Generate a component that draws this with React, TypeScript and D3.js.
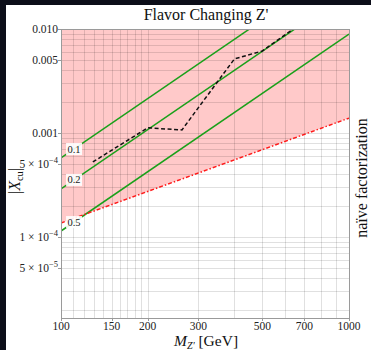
import React from 'react'
import * as d3 from 'd3'

// axis ticks
const massTicks = [100, 150, 200, 300, 500, 700, 1000]
const couplingTicks = [0.01, 0.005, 0.001, 5e-4, 1e-4, 5e-5]
const couplingMantissa = ['0.010', '0.005', '0.001', '5 × 10', '1 × 10', '5 × 10']
const couplingExponent = ['', '', '', '−4', '−4', '−5']

// green contours, value of |X_cu| at M = 100 and M = 1000 GeV
const contourLabels = ['0.1', '0.2', '0.5']
const contourAt100 = [5.75e-4, 2.9e-4, 1.14e-4]
const contourAt1000 = [0.0452, 0.0227, 8.95e-3]

// naive factorization line (red)
const naiveMass = [100, 1000]
const naiveX = [1.36e-4, 1.39e-3]

// experimental bound (black dashed)
const boundMass = [129, 200, 263, 400, 500, 640]
const boundX = [5.26e-4, 1.12e-3, 1.07e-3, 5.15e-3, 6.15e-3, 0.0100]

const W = 371
const H = 350
const margin = { top: 29, right: 22, bottom: 32, left: 61 }
const serif = '"Liberation Serif", "DejaVu Serif", serif'

export default function App() {
  const x = d3.scaleLog().domain([100, 1000]).range([margin.left, W - margin.right])
  const y = d3.scaleLog().domain([1.66e-5, 0.01]).range([H - margin.bottom, margin.top])
  const [x0, x1] = x.range()
  const [y0, y1] = y.range()

  const vGrid = d3.range(110, 200, 10).concat(d3.range(200, 1000, 100))
  const hGrid: number[] = []
  for (const k of [-5, -4, -3]) {
    for (let m = 1; m <= 9; m++) {
      const v = m * Math.pow(10, k)
      if (v > 1.66e-5 && v < 0.01) hGrid.push(v)
    }
  }

  const line = d3.line<[number, number]>()
    .x(d => x(d[0]))
    .y(d => y(d[1]))

  const naivePts = naiveMass.map((m, i) => [m, naiveX[i]] as [number, number])
  const pinkArea = d3.area<[number, number]>()
    .x(d => x(d[0]))
    .y0(y1)
    .y1(d => y(d[1]))

  const contourAt = (i: number, m: number) =>
    contourAt100[i] * Math.pow(contourAt1000[i] / contourAt100[i], Math.log10(m / 100))

  return (
    <svg width={W} height={H} fontFamily={serif} style={{ position: 'fixed', left: 0, top: 0 }}>
      <rect x={0} y={0} width={W} height={H} fill="#0c0e19" />
      <rect x={6} y={5} width={W - 6} height={H - 5} fill="#ffffff" />
      <defs>
        <clipPath id="plot">
          <rect x={x0} y={y1} width={x1 - x0} height={y0 - y1} />
        </clipPath>
      </defs>

      <path d={pinkArea(naivePts) || ''} fill="#ffc9c9" />

      <g stroke="rgba(0,0,0,0.12)" strokeWidth={1}>
        {vGrid.map(v => (
          <line key={'v' + v} x1={Math.round(x(v)) + 0.5} x2={Math.round(x(v)) + 0.5} y1={y1} y2={y0} />
        ))}
        {hGrid.map(v => (
          <line key={'h' + v} x1={x0} x2={x1} y1={Math.round(y(v)) + 0.5} y2={Math.round(y(v)) + 0.5} />
        ))}
      </g>

      <g clipPath="url(#plot)" fill="none">
        {contourLabels.map((c, i) => (
          <path key={c} d={line([[100, contourAt100[i]], [1000, contourAt1000[i]]]) || ''}
            stroke="#1aa01a" strokeWidth={1.5} />
        ))}
        <path d={line(naivePts) || ''} stroke="#ff1a1a" strokeWidth={1.5} strokeDasharray="4,2,1.5,2" />
        <path d={line(boundMass.map((m, i) => [m, boundX[i]] as [number, number])) || ''}
          stroke="#111" strokeWidth={1.5} strokeDasharray="4,2.5" />
      </g>

      {contourLabels.map((c, i) => {
        const cx = x(111)
        const cy = y(contourAt(i, 111))
        return (
          <g key={'lab' + c}>
            <rect x={cx - 8} y={cy - 6} width={16} height={12} fill="#fff" opacity={0.9} />
            <text x={cx} y={cy + 3.5} textAnchor="middle" fontSize={10.5} fontFamily={serif} fill="#222">{c}</text>
          </g>
        )
      })}

      <rect x={x0 + 0.5} y={y1 + 0.5} width={x1 - x0} height={y0 - y1} fill="none" stroke="#9a9a9a" />

      <g fontSize={11.5} fill="#222">
        {couplingTicks.map((t, i) => (
          <g key={'yt' + t}>
            <line x1={x0 - 3} x2={x0} y1={Math.round(y(t)) + 0.5} y2={Math.round(y(t)) + 0.5} stroke="#9a9a9a" />
            <text x={x0 - 3} y={y(t) + 4} textAnchor="end" fontFamily={serif}>
              {couplingMantissa[i]}
              {couplingExponent[i] && <tspan dy={-5} fontSize={8.5}>{couplingExponent[i]}</tspan>}
            </text>
          </g>
        ))}
        {massTicks.map(t => (
          <g key={'xt' + t}>
            <line x1={Math.round(x(t)) + 0.5} x2={Math.round(x(t)) + 0.5} y1={y0} y2={y0 + 3} stroke="#9a9a9a" />
            <text x={x(t)} y={y0 + 12} textAnchor="middle" fontFamily={serif}>{t}</text>
          </g>
        ))}
      </g>

      <text x={206} y={20} textAnchor="middle" fontSize={16} fontFamily={serif} fill="#111">Flavor Changing Z'</text>

      <text x={206} y={346} textAnchor="middle" fontSize={15.5} fontFamily={serif} fill="#111">
        <tspan fontStyle="italic">M</tspan>
        <tspan fontStyle="italic" fontSize={10} dy={3}>Z'</tspan>
        <tspan dy={-3}> [GeV]</tspan>
      </text>

      <text transform="translate(20,181) rotate(-90)" textAnchor="middle" fontSize={16} fontFamily={serif} fill="#111">
        |<tspan fontStyle="italic">X</tspan>
        <tspan fontSize={10.5} dy={3}>cu</tspan>
        <tspan dy={-3}>|</tspan>
      </text>

      <text transform="translate(367,178) rotate(-90)" textAnchor="middle" fontSize={16} fontFamily={serif} fill="#111">
        naïve factorization
      </text>
    </svg>
  )
}
